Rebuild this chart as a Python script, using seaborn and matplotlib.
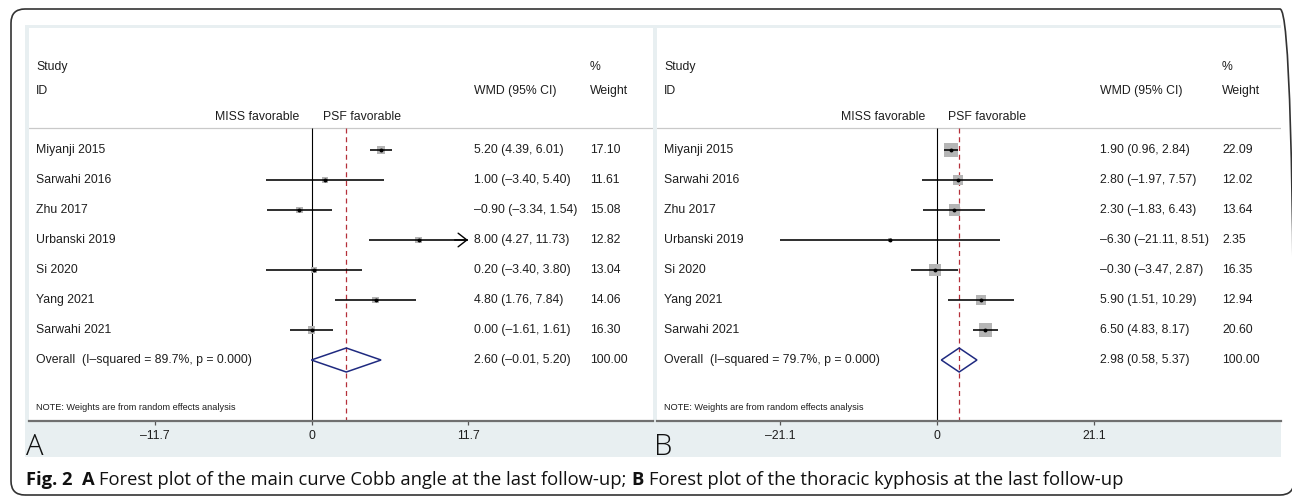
import matplotlib
matplotlib.use("Agg")
import matplotlib.pyplot as plt
import matplotlib.transforms as mtransforms
from matplotlib.patches import Rectangle, FancyBboxPatch, Polygon
import numpy as np
import pandas as pd
import seaborn as sns

# ---------------- data ----------------
studies = ["Miyanji 2015", "Sarwahi 2016", "Zhu 2017", "Urbanski 2019",
           "Si 2020", "Yang 2021", "Sarwahi 2021"]

a_est = [5.20, 1.00, -0.90, 8.00, 0.20, 4.80, 0.00]
a_lo = [4.39, -3.40, -3.34, 4.27, -3.40, 1.76, -1.61]
a_hi = [6.01, 5.40, 1.54, 11.73, 3.80, 7.84, 1.61]
a_w = [17.10, 11.61, 15.08, 12.82, 13.04, 14.06, 16.30]
a_overall = [2.60, -0.01, 5.20]
a_i2 = "89.7%"
a_p = "0.000"
a_ticks = [-11.7, 0, 11.7]
a_arrow_right = ["Urbanski 2019"]

b_est = [1.90, 2.80, 2.30, -6.30, -0.30, 5.90, 6.50]
b_lo = [0.96, -1.97, -1.83, -21.11, -3.47, 1.51, 4.83]
b_hi = [2.84, 7.57, 6.43, 8.51, 2.87, 10.29, 8.17]
b_w = [22.09, 12.02, 13.64, 2.35, 16.35, 12.94, 20.60]
b_overall = [2.98, 0.58, 5.37]
b_i2 = "79.7%"
b_p = "0.000"
b_ticks = [-21.1, 0, 21.1]
b_arrow_right = []

caption_parts = [("Fig. 2", "bold", 2),
                 ("A", "bold", 1),
                 ("Forest plot of the main curve Cobb angle at the last follow-up;", "normal", 1),
                 ("B", "bold", 1),
                 ("Forest plot of the thoracic kyphosis at the last follow-up", "normal", 0)]

# ---------------- style ----------------
sns.set_theme(style="white")
plt.rcParams['font.family'] = ['Liberation Sans', 'DejaVu Sans']
CAP_FONT = ['Open Sans', 'DejaVu Sans']

W, H = 1292, 496
fig = plt.figure(figsize=(W / 100, H / 100), dpi=100)
fig.patch.set_facecolor('white')

FS = 8.8
TXT = '#1e1e1e'
BG = '#e8eff1'
BOX = '#b5b5b5'
NAVY = '#1f2a80'
RED = '#b5303a'

Y_TOP, Y_AXIS = 28, 421
ROW0, ROWH = 150, 30


def px2row(py):
    return (py - ROW0) / ROWH


def fmt(v):
    return f"{v:.2f}".replace("-", "\u2013")


panels = [
    dict(bg=(25, 655), x0=29, x1=653, zero=311.5, tick_px=156.5, study_x=36,
         wmd_x=474, wt_x=590, letter_x=26, box_k=1.8),
    dict(bg=(655, 1281), x0=657, x1=1281, zero=937, tick_px=157, study_x=664,
         wmd_x=1100, wt_x=1222, letter_x=654, box_k=3.0),
]


def draw_panel(cfg, est, lo, hi, w, overall, i2, pval, ticks, arrows, letter):
    bx0, bx1 = cfg['bg']
    fig.add_artist(Rectangle((bx0 / W, 1 - 457 / H), (bx1 - bx0) / W, (457 - 25) / H,
                             transform=fig.transFigure, color=BG, zorder=-5, lw=0))
    x0, x1 = cfg['x0'], cfg['x1']
    ax = fig.add_axes([x0 / W, 1 - Y_AXIS / H, (x1 - x0) / W, (Y_AXIS - Y_TOP) / H])
    ax.set_facecolor('white')
    ppu = cfg['tick_px'] / ticks[-1]

    n = len(studies)
    df = pd.DataFrame(dict(study=studies, est=est, lo=lo, hi=hi, w=w, row=np.arange(n)))
    df['arrow'] = df['study'].isin(arrows)
    df['hi_draw'] = np.where(df['arrow'], np.minimum(df['hi'], ticks[-1]), df['hi'])

    c = (cfg['box_k'] * 0.72) ** 2
    wmin, wmax = min(w), max(w)
    sns.scatterplot(data=df, x='est', y='row', size='w', sizes=(c * wmin, c * wmax),
                    size_norm=(wmin, wmax), marker='s', color=BOX, linewidth=0,
                    legend=False, ax=ax, zorder=2)
    ax.hlines(df['row'], df['lo'], df['hi_draw'], color='black', lw=1.15, zorder=3)
    for _, r in df[df['arrow']].iterrows():
        ax.annotate("", xy=(r['hi_draw'], r['row']), xytext=(r['hi_draw'] - 1.0, r['row']),
                    arrowprops=dict(arrowstyle="->,head_length=0.9,head_width=0.7",
                                    lw=1.0, color='black', shrinkA=0, shrinkB=0,
                                    mutation_scale=7), zorder=3)
    sns.scatterplot(data=df, x='est', y='row', color='black', s=8, linewidth=0,
                    legend=False, ax=ax, zorder=4)

    orow = n
    oe, ol, oh = overall
    ax.add_patch(Polygon([(ol, orow), (oe, orow - 0.4), (oh, orow), (oe, orow + 0.4)],
                         closed=True, fill=False, ec=NAVY, lw=1.1, zorder=3))

    sep = px2row(128)
    ybot = px2row(Y_AXIS)
    ax.axhline(sep, color='#c9c9c9', lw=0.9, zorder=1)
    ax.vlines(0, sep, ybot, color='black', lw=0.8, zorder=1)
    ax.vlines(oe, sep, ybot, color=RED, lw=0.9, linestyles=(0, (4, 3)), zorder=1)

    ax.set_xlim((x0 - cfg['zero']) / ppu, (x1 - cfg['zero']) / ppu)
    ax.set_ylim(ybot, px2row(Y_TOP))
    ax.set_xlabel('')
    ax.set_ylabel('')

    for s in ['top', 'left', 'right']:
        ax.spines[s].set_visible(False)
    ax.spines['bottom'].set_color('#707070')
    ax.spines['bottom'].set_linewidth(1.6)
    ax.set_xticks(ticks)
    ax.set_xticklabels([f"{t:g}".replace("-", "\u2013") for t in ticks])
    ax.tick_params(axis='x', direction='out', length=3, width=0.9, color='#555555',
                   labelsize=FS, pad=3.5, labelcolor=TXT, bottom=True)
    ax.tick_params(axis='y', left=False, labelleft=False)
    ax.grid(False)

    tr = mtransforms.blended_transform_factory(ax.transAxes, ax.transData)

    def fx(px):
        return (px - x0) / (x1 - x0)

    kw = dict(transform=tr, va='center', ha='left', fontsize=FS, color=TXT)
    ax.text(fx(cfg['study_x']), px2row(67), "Study", **kw)
    ax.text(fx(cfg['wt_x']), px2row(67), "%", **kw)
    ax.text(fx(cfg['study_x']), px2row(91), "ID", **kw)
    ax.text(fx(cfg['wmd_x']), px2row(91), "WMD (95% CI)", **kw)
    ax.text(fx(cfg['wt_x']), px2row(91), "Weight", **kw)

    tl = mtransforms.offset_copy(ax.transData, fig=fig, x=-12, y=0, units='dots')
    trr = mtransforms.offset_copy(ax.transData, fig=fig, x=11, y=0, units='dots')
    ax.text(0, px2row(117), "MISS favorable", transform=tl, va='center', ha='right',
            fontsize=FS, color=TXT)
    ax.text(0, px2row(117), "PSF favorable", transform=trr, va='center', ha='left',
            fontsize=FS, color=TXT)

    for _, r in df.iterrows():
        ax.text(fx(cfg['study_x']), r['row'], r['study'], **kw)
        ax.text(fx(cfg['wmd_x']), r['row'], f"{fmt(r['est'])} ({fmt(r['lo'])}, {fmt(r['hi'])})", **kw)
        ax.text(fx(cfg['wt_x']), r['row'], f"{r['w']:.2f}", **kw)
    ax.text(fx(cfg['study_x']), orow, f"Overall  (I\u2013squared = {i2}, p = {pval})", **kw)
    ax.text(fx(cfg['wmd_x']), orow, f"{fmt(oe)} ({fmt(ol)}, {fmt(oh)})", **kw)
    ax.text(fx(cfg['wt_x']), orow, "100.00", **kw)
    ax.text(fx(cfg['study_x']), px2row(407), "NOTE: Weights are from random effects analysis",
            transform=tr, va='center', ha='left', fontsize=6.6, color=TXT)

    fig.text(cfg['letter_x'] / W, 1 - 455 / H, letter, fontsize=21, family=CAP_FONT,
             fontweight='light', va='baseline', ha='left', color='#111111')
    return ax


draw_panel(panels[0], a_est, a_lo, a_hi, a_w, a_overall, a_i2, a_p, a_ticks, a_arrow_right, "A")
draw_panel(panels[1], b_est, b_lo, b_hi, b_w, b_overall, b_i2, b_p, b_ticks, b_arrow_right, "B")

# rounded outer frame
fig.add_artist(FancyBboxPatch((11, H - 495), 1294 - 11, 495 - 9,
                              boxstyle="round,pad=0,rounding_size=14",
                              transform=mtransforms.IdentityTransform(),
                              fill=False, ec='#333333', lw=1.2, zorder=5))

# caption, fitted to its width in the reference
renderer = fig.canvas.get_renderer()


def measure(s, weight, size):
    t = fig.text(0, 0, s, fontsize=size, family=CAP_FONT, fontweight=weight)
    wpx = t.get_window_extent(renderer=renderer).width
    t.remove()
    return wpx


def caption_width(size):
    sp = measure("x x", "normal", size) - measure("xx", "normal", size)
    tot = 0
    for s, wt, nsp in caption_parts:
        tot += measure(s, wt, size) + nsp * sp
    return tot, sp


base = 10.0
tw, _ = caption_width(base)
cap_size = base * (1126 - 26) / tw
_, sp = caption_width(cap_size)
xpos = 26
for s, wt, nsp in caption_parts:
    fig.text(xpos / W, 1 - 485 / H, s, fontsize=cap_size, family=CAP_FONT,
             fontweight=wt, va='baseline', ha='left', color='#111111')
    xpos += measure(s, wt, cap_size) + nsp * sp

fig.savefig("out.png", dpi=100, facecolor='white')
